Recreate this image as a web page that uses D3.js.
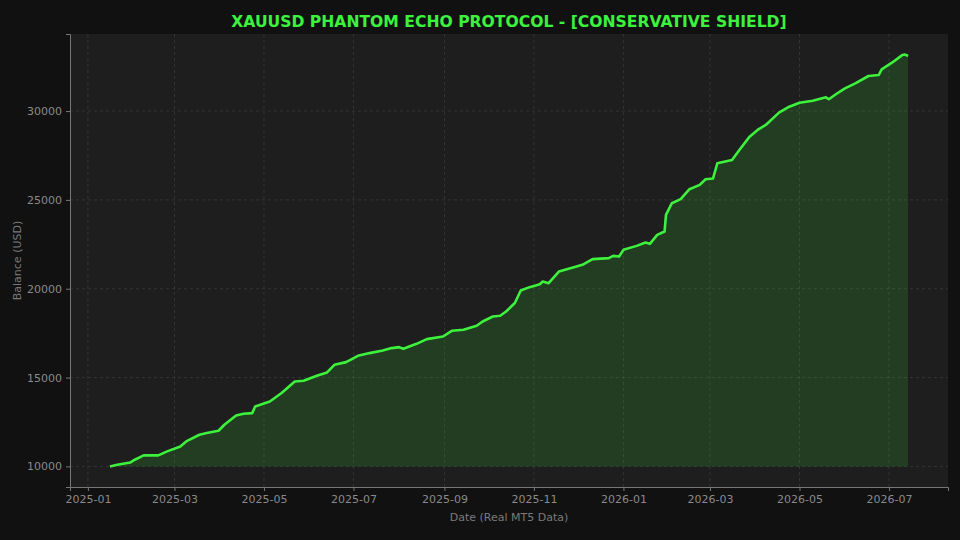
<!DOCTYPE html>
<html>
<head>
<meta charset="utf-8">
<script src="https://cdn.jsdelivr.net/npm/d3@7"></script>
<style>
  html, body { margin: 0; padding: 0; background: #111111; }
  svg { display: block; font-family: "DejaVu Sans", sans-serif; }
</style>
</head>
<body>
<svg id="chart" width="960" height="540"></svg>
<script>
(function () {
    "use strict";

    // ---- data ----------------------------------------------------
    const dates = [
        "2025-01-16", "2025-01-21", "2025-01-30", "2025-02-02", "2025-02-08", "2025-02-18",
        "2025-02-24", "2025-03-05", "2025-03-09", "2025-03-18", "2025-03-23", "2025-03-31",
        "2025-04-04", "2025-04-12", "2025-04-17", "2025-04-23", "2025-04-25", "2025-05-05",
        "2025-05-13", "2025-05-22", "2025-05-28", "2025-06-06", "2025-06-13", "2025-06-18",
        "2025-06-26", "2025-07-04", "2025-07-12", "2025-07-21", "2025-07-27", "2025-08-01",
        "2025-08-04", "2025-08-13", "2025-08-20", "2025-08-31", "2025-09-06", "2025-09-14",
        "2025-09-23", "2025-09-27", "2025-10-04", "2025-10-09", "2025-10-13", "2025-10-19",
        "2025-10-23", "2025-10-29", "2025-11-05", "2025-11-07", "2025-11-11", "2025-11-18",
        "2025-11-30", "2025-12-04", "2025-12-11", "2025-12-22", "2025-12-25", "2025-12-29",
        "2026-01-01", "2026-01-10", "2026-01-16", "2026-01-19", "2026-01-24", "2026-01-29",
        "2026-01-30", "2026-02-03", "2026-02-09", "2026-02-15", "2026-02-22", "2026-02-26",
        "2026-03-03", "2026-03-06", "2026-03-16", "2026-03-21", "2026-03-28", "2026-04-03",
        "2026-04-08", "2026-04-17", "2026-04-24", "2026-05-01", "2026-05-10", "2026-05-19",
        "2026-05-21", "2026-05-26", "2026-06-01", "2026-06-08", "2026-06-17", "2026-06-24",
        "2026-06-26", "2026-07-03", "2026-07-10", "2026-07-12", "2026-07-14"
    ];
    const balance = [
        10000, 10095, 10225, 10377, 10620, 10620,
        10845, 11125, 11406, 11780, 11875, 12008,
        12345, 12870, 12963, 13000, 13375, 13656,
        14128, 14780, 14820, 15100, 15287, 15720,
        15870, 16226, 16377, 16527, 16658, 16715,
        16620, 16900, 17165, 17312, 17632, 17688,
        17913, 18155, 18436, 18480, 18717, 19200,
        19898, 20090, 20250, 20405, 20314, 20967,
        21248, 21344, 21664, 21720, 21850, 21810,
        22188, 22412, 22600, 22525, 23031, 23218,
        24156, 24814, 25040, 25600, 25843, 26163,
        26200, 27063, 27250, 27812, 28560, 28975,
        29217, 29909, 30246, 30471, 30583, 30774,
        30662, 30960, 31280, 31562, 31973, 32030,
        32350, 32722, 33150, 33178, 33097
    ];
    const startBalance = 10000;
    const yTicks = [10000, 15000, 20000, 25000, 30000];
    const xTickDates = ["2025-01-01", "2025-03-01", "2025-05-01", "2025-07-01", "2025-09-01",
        "2025-11-01", "2026-01-01", "2026-03-01", "2026-05-01", "2026-07-01"];

    const TITLE = "XAUUSD PHANTOM ECHO PROTOCOL - [CONSERVATIVE SHIELD]";
    const GREEN = "#3df23d";

    // ---- layout ---------------------------------------------------
    const W = 960, H = 540;
    const M = { left: 70, right: 12, top: 34, bottom: 53 };
    const iw = W - M.left - M.right;
    const ih = H - M.top - M.bottom;

    const parse = d3.utcParse("%Y-%m-%d");
    const pts = dates.map((d, i) => ({ date: parse(d), v: balance[i] }));

    // matplotlib-style 5% margins
    const xExt = d3.extent(pts, d => +d.date);
    const xPad = (xExt[1] - xExt[0]) * 0.05;
    const x = d3.scaleUtc()
        .domain([new Date(xExt[0] - xPad), new Date(xExt[1] + xPad)])
        .range([0, iw]);

    const yExt = d3.extent(pts, d => d.v);
    const yPad = (yExt[1] - yExt[0]) * 0.05;
    const y = d3.scaleLinear()
        .domain([yExt[0] - yPad, yExt[1] + yPad])
        .range([ih, 0]);

    const svg = d3.select("#chart");
    svg.append("rect").attr("width", W).attr("height", H).attr("fill", "#111111");

    const g = svg.append("g").attr("transform", `translate(${M.left},${M.top})`);
    g.append("rect").attr("width", iw).attr("height", ih).attr("fill", "#1e1e1e");

    const xTicks = xTickDates.map(parse);

    // grid
    g.append("g").selectAll("line").data(xTicks).join("line")
        .attr("x1", d => x(d)).attr("x2", d => x(d))
        .attr("y1", 0).attr("y2", ih)
        .attr("stroke", "#3a3a3a").attr("stroke-width", 0.8)
        .attr("stroke-dasharray", "3,3");
    g.append("g").selectAll("line").data(yTicks).join("line")
        .attr("x1", 0).attr("x2", iw)
        .attr("y1", d => y(d)).attr("y2", d => y(d))
        .attr("stroke", "#3a3a3a").attr("stroke-width", 0.8)
        .attr("stroke-dasharray", "3,3");

    // fill + line
    const area = d3.area()
        .x(d => x(d.date))
        .y0(y(startBalance))
        .y1(d => y(d.v));
    g.append("path").datum(pts)
        .attr("d", area)
        .attr("fill", GREEN).attr("fill-opacity", 0.15);

    const line = d3.line().x(d => x(d.date)).y(d => y(d.v));
    g.append("path").datum(pts)
        .attr("d", line)
        .attr("fill", "none")
        .attr("stroke", GREEN).attr("stroke-width", 2.6)
        .attr("stroke-linejoin", "round");

    // axes
    const xAxis = g.append("g").attr("transform", `translate(0,${ih})`)
        .call(d3.axisBottom(x).tickValues(xTicks).tickFormat(d3.utcFormat("%Y-%m"))
            .tickSize(4).tickPadding(4));
    const yAxis = g.append("g")
        .call(d3.axisLeft(y).tickValues(yTicks).tickFormat(d3.format("d"))
            .tickSize(4).tickPadding(4));
    [xAxis, yAxis].forEach(a => {
        a.select(".domain").attr("stroke", "#777777").attr("stroke-width", 1);
        a.selectAll(".tick line").attr("stroke", "#777777");
        a.selectAll(".tick text").attr("fill", "#8a8a8a")
            .style("font-size", "11px").style("font-family", "DejaVu Sans");
    });

    // labels
    svg.append("text")
        .attr("x", M.left + iw / 2).attr("y", 27)
        .attr("text-anchor", "middle")
        .attr("fill", GREEN)
        .style("font-size", "15.6px").style("font-weight", "bold")
        .text(TITLE);

    svg.append("text")
        .attr("x", M.left + iw / 2).attr("y", 521)
        .attr("text-anchor", "middle")
        .attr("fill", "#7a7a7a")
        .style("font-size", "11px")
        .text("Date (Real MT5 Data)");

    svg.append("text")
        .attr("transform", `translate(21,${M.top + ih / 2}) rotate(-90)`)
        .attr("text-anchor", "middle")
        .attr("fill", "#7a7a7a")
        .style("font-size", "11px")
        .text("Balance (USD)");
})();
</script>
</body>
</html>
